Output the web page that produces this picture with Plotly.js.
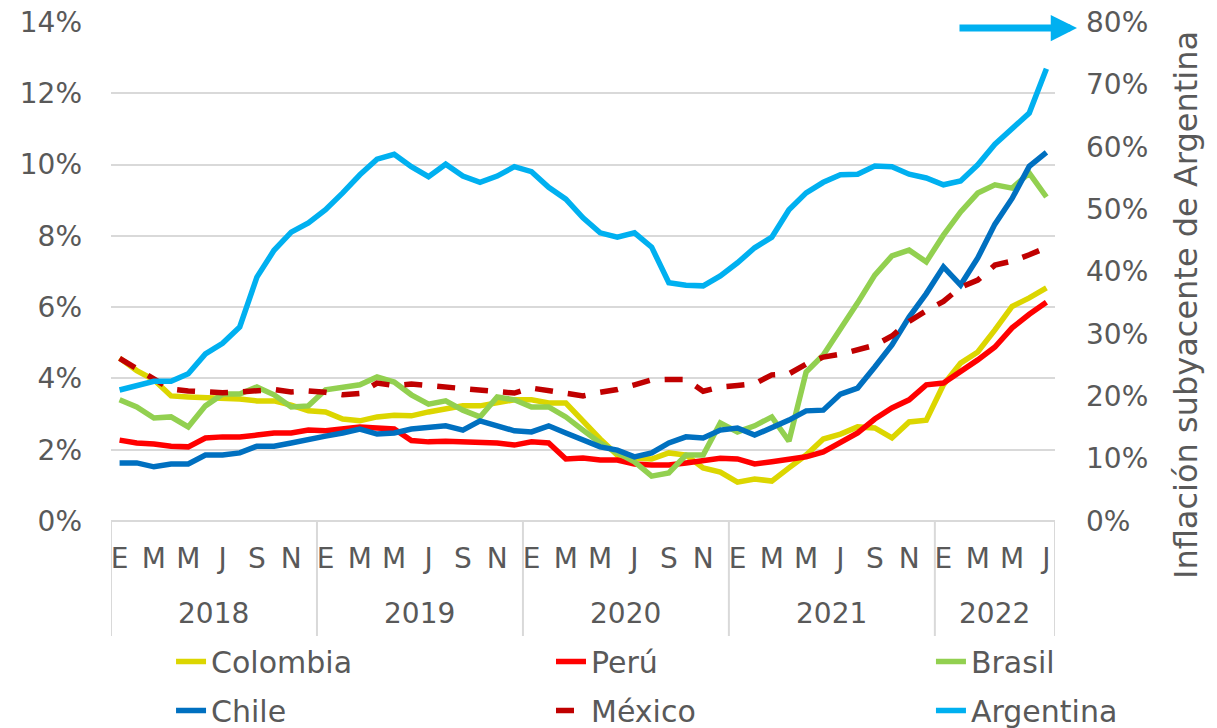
<!DOCTYPE html>
<html><head><meta charset="utf-8">
<script src="https://cdn.plot.ly/plotly-3.0.1.min.js"></script>
<style>html,body{margin:0;padding:0;background:#fff}#chart{width:1217px;height:728px}</style>
</head><body><div id="chart"></div>
<script>
// ---- data (monthly, Jan 2018 - Jul 2022) ----
const years = ['2018', '2019', '2020', '2021', '2022'];
const monthLetters = ['E', 'F', 'M', 'A', 'M', 'J', 'J', 'A', 'S', 'O', 'N', 'D'];
const monthsPerYear = [12, 12, 12, 12, 7];

const colombia = [4.57, 4.22, 3.96, 3.51, 3.48, 3.46, 3.45, 3.42, 3.37, 3.37, 3.25, 3.09,
                  3.06, 2.86, 2.81, 2.92, 2.97, 2.95, 3.06, 3.14, 3.23, 3.23, 3.31, 3.40,
                  3.40, 3.31, 3.31, 2.80, 2.30, 1.85, 1.77, 1.74, 1.91, 1.85, 1.49, 1.37,
                  1.09, 1.18, 1.12, 1.49, 1.85, 2.30, 2.44, 2.64, 2.61, 2.33, 2.78, 2.83,
                  3.82, 4.43, 4.74, 5.36, 6.02, 6.26, 6.54];
const peru     = [2.27, 2.19, 2.16, 2.10, 2.08, 2.33, 2.36, 2.36, 2.41, 2.47, 2.47, 2.55,
                  2.53, 2.58, 2.64, 2.61, 2.58, 2.26, 2.22, 2.24, 2.22, 2.22, 2.19, 2.13,
                  2.22, 2.19, 1.74, 1.77, 1.71, 1.71, 1.60, 1.57, 1.57, 1.63, 1.68, 1.76,
                  1.74, 1.60, 1.66, 1.74, 1.80, 1.94, 2.19, 2.47, 2.86, 3.17, 3.40, 3.82,
                  3.87, 4.18, 4.52, 4.88, 5.42, 5.80, 6.14];
const brasil   = [3.40, 3.20, 2.89, 2.92, 2.64, 3.23, 3.56, 3.56, 3.76, 3.54, 3.20, 3.23,
                  3.68, 3.76, 3.82, 4.04, 3.90, 3.54, 3.28, 3.37, 3.11, 2.92, 3.48, 3.40,
                  3.20, 3.20, 2.92, 2.55, 2.19, 1.91, 1.66, 1.26, 1.35, 1.85, 1.85, 2.75,
                  2.50, 2.67, 2.92, 2.24, 4.18, 4.66, 5.36, 6.12, 6.90, 7.44, 7.60, 7.27,
                  8.02, 8.67, 9.20, 9.43, 9.34, 9.76, 9.09];
const chile    = [1.63, 1.63, 1.52, 1.60, 1.60, 1.85, 1.85, 1.91, 2.10, 2.10, 2.19, 2.27,
                  2.38, 2.47, 2.58, 2.44, 2.47, 2.58, 2.61, 2.67, 2.55, 2.81, 2.67, 2.53,
                  2.50, 2.67, 2.47, 2.27, 2.08, 1.99, 1.80, 1.91, 2.19, 2.36, 2.33, 2.55,
                  2.61, 2.41, 2.61, 2.83, 3.09, 3.11, 3.56, 3.73, 4.32, 4.94, 5.72, 6.38,
                  7.13, 6.62, 7.38, 8.33, 9.05, 9.95, 10.34];
const mexico   = [4.56, 4.27, 3.98, 3.70, 3.65, 3.62, 3.60, 3.62, 3.67, 3.69, 3.62, 3.65,
                  3.61, 3.54, 3.58, 3.87, 3.80, 3.84, 3.80, 3.76, 3.73, 3.68, 3.63, 3.59,
                  3.73, 3.65, 3.59, 3.51, 3.61, 3.69, 3.82, 3.96, 3.97, 3.97, 3.64, 3.76,
                  3.80, 3.85, 4.10, 4.13, 4.40, 4.60, 4.68, 4.82, 4.93, 5.19, 5.60, 5.90,
                  6.16, 6.56, 6.76, 7.18, 7.29, 7.47, 7.67];
const argentina= [21.0, 21.6, 22.4, 22.4, 23.6, 26.8, 28.5, 31.1, 39.1, 43.4, 46.3, 47.8,
                  49.9, 52.6, 55.5, 58.0, 58.8, 56.8, 55.2, 57.2, 55.3, 54.3, 55.3, 56.8,
                  56.0, 53.5, 51.6, 48.6, 46.2, 45.5, 46.2, 43.9, 38.2, 37.8, 37.7, 39.3,
                  41.4, 43.8, 45.5, 49.9, 52.6, 54.3, 55.5, 55.6, 56.9, 56.8, 55.6, 55.0,
                  53.9, 54.5, 57.1, 60.4, 63.0, 65.4, 72.5];

const seriesNames = ['Colombia', 'Perú', 'Brasil', 'Chile', 'México', 'Argentina'];
const rightTitle = 'Inflación subyacente de Argentina';

// ---- build period index ----
const xIdx = [], periodLabel = [], yearStart = [], yearEnd = [];
let k = 0;
years.forEach((yr, yi) => {
  yearStart.push(k);
  for (let m = 0; m < monthsPerYear[yi]; m++) {
    xIdx.push(k); periodLabel.push(monthLetters[m] + ' ' + yr); k++;
  }
  yearEnd.push(k - 1);
});
const tickVals = xIdx.filter((v, i) => i % 2 === 0);
const tickText = tickVals.map(v => periodLabel[v].split(' ')[0]);

const FONT = 'DejaVu Sans, Open Sans, sans-serif';
const TXT = '#595959';
const W = 5.5;

function tr(name, y, color, legend, extra) {
  return Object.assign({
    type: 'scatter', mode: 'lines', name: name, x: xIdx, y: y,
    text: periodLabel, hoverinfo: 'text+y+name',
    line: {color: color, width: W}, legend: legend, legendgroup: name
  }, extra || {});
}

const data = [
  tr(seriesNames[0], colombia, '#dcd600', 'legend'),
  tr(seriesNames[1], peru, '#ff0000', 'legend2'),
  tr(seriesNames[2], brasil, '#92d050', 'legend3'),
  tr(seriesNames[3], chile, '#0070c0', 'legend'),
  tr(seriesNames[4], mexico, '#c00000', 'legend2', {line: {color: '#c00000', width: W, dash: '18px,15px'}}),
  tr(seriesNames[5], argentina, '#00b0f0', 'legend3', {yaxis: 'y2'})
];

// plot area: y from 22 to 521 px (499 px); helper to convert pixel rows to paper
const py = p => (521 - p) / 499;

const shapes = [];
yearStart.forEach((s, i) => {
  shapes.push({type: 'line', xref: 'x', yref: 'paper', x0: s - 0.5, x1: s - 0.5, y0: 0, y1: py(636),
               line: {color: '#d9d9d9', width: 2}});
});
shapes.push({type: 'line', xref: 'x', yref: 'paper', x0: yearEnd[yearEnd.length - 1] + 0.5, x1: yearEnd[yearEnd.length - 1] + 0.5,
             y0: 0, y1: py(636), line: {color: '#d9d9d9', width: 2}});

const annotations = years.map((yr, i) => ({
  text: yr, xref: 'x', yref: 'paper', x: (yearStart[i] + yearEnd[i]) / 2, y: py(613),
  xanchor: 'center', yanchor: 'middle', showarrow: false, font: {family: FONT, size: 28, color: TXT}
}));
annotations.push({
  text: rightTitle, xref: 'paper', yref: 'paper', x: 1.1388, y: py(305), textangle: -90,
  xanchor: 'center', yanchor: 'middle', showarrow: false, font: {family: FONT, size: 32, color: TXT}
});
annotations.push({
  text: '', xref: 'paper', yref: 'paper', x: 1.0233, y: py(28), ax: -119, ay: 0,
  showarrow: true, arrowhead: 2, arrowsize: 0.75, arrowwidth: 7, arrowcolor: '#00b0f0'
});

const legendCommon = {
  orientation: 'v', yanchor: 'middle', y: py(686), xanchor: 'left',
  font: {family: FONT, size: 30, color: TXT}, bgcolor: 'rgba(0,0,0,0)',
  traceorder: 'grouped', tracegroupgap: 7, itemwidth: 30
};

const layout = {
  width: 1217, height: 728,
  margin: {l: 111, r: 162, t: 22, b: 207, pad: 0, autoexpand: false},
  paper_bgcolor: '#fff', plot_bgcolor: '#fff',
  font: {family: FONT, color: TXT},
  xaxis: {
    range: [-0.5, xIdx.length - 0.5], tickmode: 'array', tickvals: tickVals, ticktext: tickText,
    showgrid: false, zeroline: false, showline: false, ticks: '',
    tickfont: {family: FONT, size: 28, color: TXT}, ticklabelstandoff: 18, automargin: false
  },
  yaxis: {
    range: [0, 14], dtick: 2, tick0: 0, ticksuffix: '%', showgrid: true, gridcolor: '#d9d9d9', gridwidth: 2,
    zeroline: true, zerolinecolor: '#d9d9d9', zerolinewidth: 2, showline: false, ticks: '',
    tickfont: {family: FONT, size: 28, color: TXT}, ticklabelstandoff: 28, automargin: false
  },
  yaxis2: {
    range: [0, 80], dtick: 10, tick0: 0, ticksuffix: '%', overlaying: 'y', side: 'right',
    showgrid: false, zeroline: false, showline: false, ticks: '',
    tickfont: {family: FONT, size: 28, color: TXT}, ticklabelstandoff: 30, automargin: false
  },
  legend: Object.assign({}, legendCommon, {x: 0.0636}),
  legend2: Object.assign({}, legendCommon, {x: 0.4661}),
  legend3: Object.assign({}, legendCommon, {x: 0.8686}),
  shapes: shapes,
  annotations: annotations,
  showlegend: true
};

Plotly.newPlot('chart', data, layout, {displayModeBar: false, responsive: false});
</script>
</body></html>
